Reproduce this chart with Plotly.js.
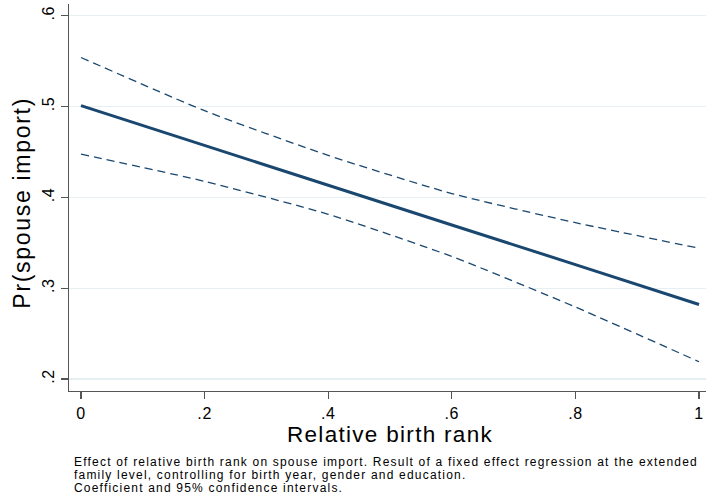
<!DOCTYPE html>
<html>
<head>
<meta charset="utf-8">
<script src="https://cdn.plot.ly/plotly-3.0.1.min.js"></script>
<style>
html,body{margin:0;padding:0;background:#fff}
#chart{width:706px;height:502px}
#chart .annotation-text{letter-spacing:1.2px}
#chart .xtick text{letter-spacing:0.6px}
#chart .ytick text{letter-spacing:0.5px}
</style>
</head>
<body>
<div id="chart"></div>
<script>
const birthRank = [0, 0.2, 0.4, 0.6, 0.8, 1];
const prediction = [0.501, 0.457, 0.4134, 0.3696, 0.326, 0.282];
const upperCI = [0.554, 0.4954, 0.4462, 0.4042, 0.3722, 0.344];
const lowerCI = [0.4476, 0.4176, 0.3814, 0.3349, 0.2793, 0.219];
const xTickVals = [0, 0.2, 0.4, 0.6, 0.8, 1];
const xTickText = ["0", ".2", ".4", ".6", ".8", "1"];
const yTickVals = [0.2, 0.3, 0.4, 0.5, 0.6];
const yTickText = [".2", ".3", ".4", ".5", ".6"];
const xTitle = "Relative birth rank";
const yTitle = "Pr(spouse import)";
const noteLines = [
  "Effect of relative birth rank on spouse import. Result of a fixed effect regression at the extended",
  "family level, controlling for birth year, gender and education.",
  "Coefficient and 95% confidence intervals."
];

const navy = "rgb(26,71,111)";
const font = "Liberation Sans, Arial, Helvetica, sans-serif";

const traces = [
  {x: birthRank, y: upperCI, mode: "lines", line: {color: navy, width: 1.3, dash: "8px,5px", shape: "spline", smoothing: 0.6}, hoverinfo: "skip"},
  {x: birthRank, y: lowerCI, mode: "lines", line: {color: navy, width: 1.3, dash: "8px,5px", shape: "spline", smoothing: 0.6}, hoverinfo: "skip"},
  {x: birthRank, y: prediction, mode: "lines", line: {color: navy, width: 3}, hoverinfo: "skip"}
];

const plotH = 386.7, plotW = 637;
const annotations = noteLines.map((t, i) => ({
  text: t, xref: "paper", yref: "paper", x: 3/plotW, y: -(453 - 390.7 + i*13)/plotH,
  xanchor: "left", yanchor: "top", showarrow: false, align: "left",
  font: {size: 12, family: font, color: "#000"}
}));
annotations.push({
  text: "<span style='letter-spacing:1.3px'>" + xTitle + "</span>", xref: "paper", yref: "paper",
  x: (390 - 69)/plotW, y: -(421 - 390.7)/plotH, xanchor: "center", yanchor: "top", borderpad: 0,
  showarrow: false, font: {size: 22.5, family: font, color: "#000"}
});
annotations.push({
  text: "<span style='letter-spacing:1.7px'>" + yTitle + "</span>", xref: "paper", yref: "paper",
  x: (22 - 69)/plotW, y: (390.7 - 202.5)/plotH, xanchor: "center", yanchor: "middle",
  textangle: -90, showarrow: false, font: {size: 23, family: font, color: "#000"}
});

const layout = {
  width: 706, height: 502,
  margin: {l: 69, r: 0, t: 4, b: 111},
  paper_bgcolor: "#fff", plot_bgcolor: "#fff",
  showlegend: false,
  font: {family: font, color: "#000"},
  xaxis: {
    range: [-0.0194, 1.0113], tickvals: xTickVals, ticktext: xTickText,
    showline: true, linecolor: "#555", linewidth: 1.3, zeroline: false, showgrid: false,
    ticks: "outside", ticklen: 7, tickcolor: "#555", tickwidth: 1.2,
    tickfont: {size: 16, family: font}
  },
  yaxis: {
    range: [0.1868, 0.6129], tickvals: yTickVals, ticktext: yTickText,
    showline: true, linecolor: "#555", linewidth: 1.3, zeroline: false,
    showgrid: true, gridcolor: "#e6eff1", gridwidth: 1.2,
    ticks: "outside", ticklen: 7, tickcolor: "#555", tickwidth: 1.2,
    tickangle: -90, tickfont: {size: 16, family: font}
  },
  annotations: annotations
};

Plotly.newPlot("chart", traces, layout, {displayModeBar: false, staticPlot: true});
</script>
</body>
</html>
